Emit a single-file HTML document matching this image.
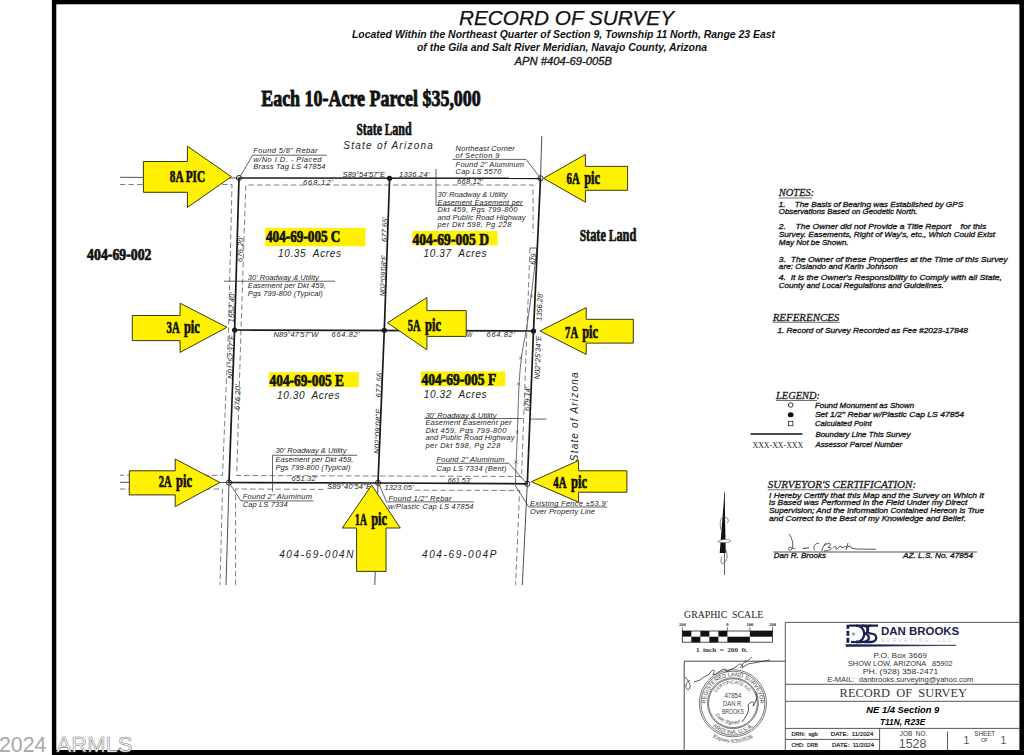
<!DOCTYPE html>
<html><head><meta charset="utf-8"><title>Record of Survey</title>
<style>html,body{margin:0;padding:0;background:#fff;overflow:hidden}svg{display:block}text{white-space:pre}</style>
</head><body>
<svg width="1024" height="755" viewBox="0 0 1024 755"><rect x="0" y="0" width="1024" height="755" fill="#fff"/>
<rect x="52" y="0" width="972" height="4.3" fill="#000"/>
<rect x="51.9" y="0" width="4.4" height="755" fill="#000"/>
<rect x="1019.4" y="0" width="4.6" height="755" fill="#000"/>
<rect x="52" y="750" width="972" height="5" fill="#000"/>
<text x="459" y="24.9" font-family="Liberation Sans" font-size="19.5" font-style="italic" textLength="215" lengthAdjust="spacingAndGlyphs" fill="#111" stroke="#111" stroke-width="0.25">RECORD OF SURVEY</text>
<text x="352" y="37.9" font-family="Liberation Sans" font-size="10.6" font-weight="bold" font-style="italic" textLength="423" lengthAdjust="spacingAndGlyphs" fill="#111" >Located Within the Northeast Quarter of Section 9, Township 11 North, Range 23 East</text>
<text x="417" y="51" font-family="Liberation Sans" font-size="10.6" font-weight="bold" font-style="italic" textLength="290" lengthAdjust="spacingAndGlyphs" fill="#111" >of the Gila and Salt River Meridian, Navajo County, Arizona</text>
<text x="514.5" y="64.7" font-family="Liberation Sans" font-size="11.5" font-style="italic" textLength="97.5" lengthAdjust="spacingAndGlyphs" fill="#111" stroke="#111" stroke-width="0.3">APN #404-69-005B</text>
<text x="261.2" y="105.8" font-family="Liberation Serif" font-size="23" font-weight="bold" textLength="219.6" lengthAdjust="spacingAndGlyphs" fill="#111" stroke="#111" stroke-width="0.9" stroke-linejoin="round">Each 10-Acre Parcel $35,000</text>
<text x="356.6" y="134.8" font-family="Liberation Serif" font-size="16.5" font-weight="bold" textLength="55" lengthAdjust="spacingAndGlyphs" fill="#111" stroke="#111" stroke-width="0.7" stroke-linejoin="round">S<tspan font-size="17.8">tate</tspan> L<tspan font-size="17.8">and</tspan></text>
<text x="343.3" y="148.7" font-family="Liberation Sans" font-size="10" font-style="italic" textLength="89.5" lengthAdjust="spacing" fill="#222" >State of Arizona</text>
<path d="M120,184.5 L232,184.5 L228.5,330 L222.5,475.3 L120,475.3" stroke="#555" stroke-width="0.75" fill="none" stroke-dasharray="5.5,3"/>
<path d="M120,489 L222.5,489 L220,585" stroke="#555" stroke-width="0.75" fill="none" stroke-dasharray="5.5,3"/>
<path d="M521.5,476.5 L236.7,475.5 L241,330 L245.8,185 L533,185 L533,233" stroke="#555" stroke-width="0.75" fill="none" stroke-dasharray="5.5,3"/>
<path d="M235.6,585 L235.6,489 L325,489.4" stroke="#555" stroke-width="0.75" fill="none" stroke-dasharray="5.5,3"/>
<path d="M415,490.2 L519.6,490.5 L515.6,585" stroke="#555" stroke-width="0.75" fill="none" stroke-dasharray="5.5,3"/>
<path d="M530,248 L521.5,476.5" stroke="#555" stroke-width="0.75" fill="none" stroke-dasharray="5.5,3"/>
<path d="M537,248 C533,280 529,318 524,342 C519,365 518.5,395 517.5,430 C516.5,455 515.5,470 515.5,484" stroke="#3c3c3c" stroke-width="0.75" fill="none" />
<path d="M530.0,294.5 L533.0,297.5" stroke="#3c3c3c" stroke-width="0.6" fill="none" />
<path d="M530.0,297.5 L533.0,294.5" stroke="#3c3c3c" stroke-width="0.6" fill="none" />
<path d="M519.1,356.5 L522.1,359.5" stroke="#3c3c3c" stroke-width="0.6" fill="none" />
<path d="M519.1,359.5 L522.1,356.5" stroke="#3c3c3c" stroke-width="0.6" fill="none" />
<path d="M517.1,382.5 L520.1,385.5" stroke="#3c3c3c" stroke-width="0.6" fill="none" />
<path d="M517.1,385.5 L520.1,382.5" stroke="#3c3c3c" stroke-width="0.6" fill="none" />
<path d="M515.7,430.5 L518.7,433.5" stroke="#3c3c3c" stroke-width="0.6" fill="none" />
<path d="M515.7,433.5 L518.7,430.5" stroke="#3c3c3c" stroke-width="0.6" fill="none" />
<path d="M514.5,460.5 L517.5,463.5" stroke="#3c3c3c" stroke-width="0.6" fill="none" />
<path d="M514.5,463.5 L517.5,460.5" stroke="#3c3c3c" stroke-width="0.6" fill="none" />
<path d="M529.7,248 L537,248" stroke="#3c3c3c" stroke-width="0.8" fill="none" />
<path d="M120,177.3 L239,178" stroke="#3c3c3c" stroke-width="0.9" fill="none" />
<path d="M541.8,136 L540.5,178.3" stroke="#3c3c3c" stroke-width="0.9" fill="none" />
<path d="M120,482.3 L229,482.5" stroke="#3c3c3c" stroke-width="0.9" fill="none" />
<path d="M229,482.5 L226,585" stroke="#3c3c3c" stroke-width="0.9" fill="none" />
<path d="M527.3,483.8 L522.3,585" stroke="#3c3c3c" stroke-width="0.9" fill="none" />
<path d="M378,483 L374.8,585" stroke="#3c3c3c" stroke-width="0.9" fill="none" />
<path d="M239,178 L540.5,178.3" stroke="#1a1a1a" stroke-width="1.7" fill="none" />
<path d="M239,178 L234.6,330 L229,482.5" stroke="#1a1a1a" stroke-width="1.7" fill="none" />
<path d="M540.5,178.3 L533.5,331 L527.3,483.8" stroke="#1a1a1a" stroke-width="1.7" fill="none" />
<path d="M229,482.5 L378,483 L527.3,483.8" stroke="#1a1a1a" stroke-width="1.7" fill="none" />
<path d="M234.6,330 L533.5,331" stroke="#1a1a1a" stroke-width="1.7" fill="none" />
<path d="M389.6,178.3 L384.3,330 L378,483" stroke="#1a1a1a" stroke-width="1.7" fill="none" />
<circle cx="389.6" cy="178.3" r="2.6" fill="#1a1a1a" stroke="none" stroke-width="1"/>
<circle cx="234.6" cy="330" r="2.6" fill="#1a1a1a" stroke="none" stroke-width="1"/>
<circle cx="384.3" cy="330.3" r="2.6" fill="#1a1a1a" stroke="none" stroke-width="1"/>
<circle cx="533.5" cy="331" r="2.6" fill="#1a1a1a" stroke="none" stroke-width="1"/>
<circle cx="239" cy="178" r="2.6" fill="none" stroke="#1a1a1a" stroke-width="0.9"/>
<circle cx="540.5" cy="178.3" r="2.6" fill="none" stroke="#1a1a1a" stroke-width="0.9"/>
<circle cx="229" cy="482.5" r="2.6" fill="none" stroke="#1a1a1a" stroke-width="0.9"/>
<circle cx="378" cy="482.8" r="2.6" fill="none" stroke="#1a1a1a" stroke-width="0.9"/>
<circle cx="527.3" cy="483.8" r="2.6" fill="none" stroke="#1a1a1a" stroke-width="0.9"/>
<path d="M252.6,155.2 L326.7,155.2" stroke="#3c3c3c" stroke-width="0.8" fill="none" />
<path d="M252.6,155.2 L239.7,177.5" stroke="#3c3c3c" stroke-width="0.8" fill="none" />
<path d="M452.6,159.4 L526.1,159.4 L540.5,178.3" stroke="#3c3c3c" stroke-width="0.8" fill="none" />
<path d="M436,169 L436,205.5 L523,205.5" stroke="#3c3c3c" stroke-width="0.8" fill="none" />
<path d="M224,281.2 L335,281.2" stroke="#3c3c3c" stroke-width="0.8" fill="none" />
<path d="M424.6,418.5 L522.4,418.5" stroke="#3c3c3c" stroke-width="0.8" fill="none" />
<path d="M530,419.1 L546.3,419.1" stroke="#3c3c3c" stroke-width="0.8" fill="none" />
<path d="M272.5,455.3 L357.1,455.3" stroke="#3c3c3c" stroke-width="0.8" fill="none" />
<path d="M272.5,455.3 L272.5,491.5" stroke="#3c3c3c" stroke-width="0.8" fill="none" />
<path d="M229,482.5 L241,500.9 L313.4,500.9" stroke="#3c3c3c" stroke-width="0.8" fill="none" />
<path d="M436,463.3 L508.9,463.3 L520.8,476.9 L527.3,483.8" stroke="#3c3c3c" stroke-width="0.8" fill="none" />
<path d="M379.3,484.8 L386.6,501.9 L474,501.9" stroke="#3c3c3c" stroke-width="0.8" fill="none" />
<path d="M515,485 L528.7,507 L607.3,507" stroke="#3c3c3c" stroke-width="0.8" fill="none" />
<text x="253.2" y="153.4" font-family="Liberation Sans" font-size="7.5" font-style="italic" textLength="64.4" lengthAdjust="spacing" fill="#222" >Found 5/8" Rebar</text>
<text x="253.2" y="162.2" font-family="Liberation Sans" font-size="7.5" font-style="italic" textLength="68.3" lengthAdjust="spacing" fill="#222" >w/No I.D. - Placed</text>
<text x="253.2" y="169.3" font-family="Liberation Sans" font-size="7.5" font-style="italic" textLength="72.3" lengthAdjust="spacing" fill="#222" >Brass Tag LS 47854</text>
<text x="455.6" y="150.9" font-family="Liberation Sans" font-size="7.5" font-style="italic" textLength="59.2" lengthAdjust="spacing" fill="#222" >Northeast Corner</text>
<text x="455.6" y="157.8" font-family="Liberation Sans" font-size="7.5" font-style="italic" textLength="43.7" lengthAdjust="spacing" fill="#222" >of Section 9</text>
<text x="455.6" y="166.7" font-family="Liberation Sans" font-size="7.5" font-style="italic" textLength="68.5" lengthAdjust="spacing" fill="#222" >Found 2" Aluminum</text>
<text x="455.6" y="174.1" font-family="Liberation Sans" font-size="7.5" font-style="italic" textLength="45.7" lengthAdjust="spacing" fill="#222" >Cap LS 5570</text>
<text x="342.6" y="177" font-family="Liberation Sans" font-size="7.5" font-style="italic" textLength="42.4" lengthAdjust="spacing" fill="#222" >S89°54'57"E</text>
<text x="399" y="177" font-family="Liberation Sans" font-size="7.5" font-style="italic" textLength="30.4" lengthAdjust="spacing" fill="#222" >1336.24'</text>
<text x="303" y="184.6" font-family="Liberation Sans" font-size="7.5" font-style="italic" textLength="30" lengthAdjust="spacing" fill="#222" >668.12'</text>
<text x="457" y="184.3" font-family="Liberation Sans" font-size="7.5" font-style="italic" textLength="26" lengthAdjust="spacing" fill="#222" >668.12'</text>
<text x="437.5" y="197.3" font-family="Liberation Sans" font-size="7.5" font-style="italic" textLength="70" lengthAdjust="spacingAndGlyphs" fill="#222" >30' Roadway &amp; Utility</text>
<text x="437.5" y="204.75" font-family="Liberation Sans" font-size="7.5" font-style="italic" textLength="85" lengthAdjust="spacing" fill="#222" >Easement Easement per</text>
<text x="437.5" y="212.20000000000002" font-family="Liberation Sans" font-size="7.5" font-style="italic" textLength="80" lengthAdjust="spacing" fill="#222" >Dkt 459, Pgs 799-800</text>
<text x="437.5" y="219.65" font-family="Liberation Sans" font-size="7.5" font-style="italic" textLength="88" lengthAdjust="spacing" fill="#222" >and Public Road Highway</text>
<text x="437.5" y="227.10000000000002" font-family="Liberation Sans" font-size="7.5" font-style="italic" textLength="74" lengthAdjust="spacing" fill="#222" >per Dkt 598, Pg 228</text>
<text x="247.8" y="280" font-family="Liberation Sans" font-size="7.5" font-style="italic" textLength="71" lengthAdjust="spacing" fill="#222" >30' Roadway &amp; Utility</text>
<text x="247.8" y="288" font-family="Liberation Sans" font-size="7.5" font-style="italic" textLength="78" lengthAdjust="spacing" fill="#222" >Easement per Dkt 459,</text>
<text x="247.8" y="295.5" font-family="Liberation Sans" font-size="7.5" font-style="italic" textLength="75" lengthAdjust="spacing" fill="#222" >Pgs 799-800 (Typical)</text>
<text x="278" y="256.8" font-family="Liberation Sans" font-size="10" font-style="italic" textLength="63" lengthAdjust="spacing" fill="#222" >10.35  Acres</text>
<text x="423.5" y="256.5" font-family="Liberation Sans" font-size="10" font-style="italic" textLength="63" lengthAdjust="spacing" fill="#222" >10.37  Acres</text>
<text x="277.1" y="398.5" font-family="Liberation Sans" font-size="10" font-style="italic" textLength="62.4" lengthAdjust="spacing" fill="#222" >10.30  Acres</text>
<text x="423.8" y="397.7" font-family="Liberation Sans" font-size="10" font-style="italic" textLength="62.8" lengthAdjust="spacing" fill="#222" >10.32  Acres</text>
<text x="273.6" y="337" font-family="Liberation Sans" font-size="7.5" font-style="italic" textLength="44.8" lengthAdjust="spacing" fill="#222" >N89°47'57"W</text>
<text x="331.6" y="337" font-family="Liberation Sans" font-size="7.5" font-style="italic" textLength="28.1" lengthAdjust="spacing" fill="#222" >664.82'</text>
<text x="440" y="337" font-family="Liberation Sans" font-size="7.5" font-style="italic" textLength="32" lengthAdjust="spacingAndGlyphs" fill="#222" >N89°47'57"W</text>
<text x="486.6" y="336.9" font-family="Liberation Sans" font-size="7.5" font-style="italic" textLength="28.2" lengthAdjust="spacing" fill="#222" >664.82'</text>
<text x="425.4" y="417.6" font-family="Liberation Sans" font-size="7.5" font-style="italic" textLength="71" lengthAdjust="spacing" fill="#222" >30' Roadway &amp; Utility</text>
<text x="425.4" y="425.15000000000003" font-family="Liberation Sans" font-size="7.5" font-style="italic" textLength="86" lengthAdjust="spacing" fill="#222" >Easement Easement per</text>
<text x="425.4" y="432.70000000000005" font-family="Liberation Sans" font-size="7.5" font-style="italic" textLength="81" lengthAdjust="spacing" fill="#222" >Dkt 459, Pgs 799-800</text>
<text x="425.4" y="440.25" font-family="Liberation Sans" font-size="7.5" font-style="italic" textLength="89" lengthAdjust="spacing" fill="#222" >and Public Road Highway</text>
<text x="425.4" y="447.8" font-family="Liberation Sans" font-size="7.5" font-style="italic" textLength="75" lengthAdjust="spacing" fill="#222" >per Dkt 598, Pg 228</text>
<text x="436.6" y="461.7" font-family="Liberation Sans" font-size="7.5" font-style="italic" textLength="68" lengthAdjust="spacing" fill="#222" >Found 2" Aluminum</text>
<text x="436.6" y="470.5" font-family="Liberation Sans" font-size="7.5" font-style="italic" textLength="70" lengthAdjust="spacing" fill="#222" >Cap LS 7334 (Bent)</text>
<text x="275.4" y="453.4" font-family="Liberation Sans" font-size="7.5" font-style="italic" textLength="71" lengthAdjust="spacing" fill="#222" >30' Roadway &amp; Utility</text>
<text x="275.4" y="461.7" font-family="Liberation Sans" font-size="7.5" font-style="italic" textLength="78" lengthAdjust="spacing" fill="#222" >Easement per Dkt 459,</text>
<text x="275.4" y="470" font-family="Liberation Sans" font-size="7.5" font-style="italic" textLength="75" lengthAdjust="spacing" fill="#222" >Pgs 799-800 (Typical)</text>
<text x="291.6" y="480.8" font-family="Liberation Sans" font-size="7.5" font-style="italic" textLength="25.7" lengthAdjust="spacing" fill="#222" >651.32'</text>
<text x="447.8" y="482.6" font-family="Liberation Sans" font-size="7.5" font-style="italic" textLength="23.2" lengthAdjust="spacingAndGlyphs" fill="#222" >661.53'</text>
<text x="327" y="489" font-family="Liberation Sans" font-size="7.5" font-style="italic" textLength="44" lengthAdjust="spacing" fill="#222" >S89°40'54"E</text>
<text x="384.6" y="489.6" font-family="Liberation Sans" font-size="7.5" font-style="italic" textLength="28.9" lengthAdjust="spacing" fill="#222" >1323.05'</text>
<text x="242.7" y="499.4" font-family="Liberation Sans" font-size="7.5" font-style="italic" textLength="69.2" lengthAdjust="spacing" fill="#222" >Found 2" Aluminum</text>
<text x="242.7" y="507.3" font-family="Liberation Sans" font-size="7.5" font-style="italic" textLength="45" lengthAdjust="spacing" fill="#222" >Cap LS 7334</text>
<text x="388.5" y="500.6" font-family="Liberation Sans" font-size="7.5" font-style="italic" textLength="63" lengthAdjust="spacing" fill="#222" >Found 1/2" Rebar</text>
<text x="388" y="508.7" font-family="Liberation Sans" font-size="7.5" font-style="italic" textLength="85.5" lengthAdjust="spacing" fill="#222" >w/Plastic Cap LS 47854</text>
<text x="530" y="505.6" font-family="Liberation Sans" font-size="7.5" font-style="italic" textLength="77.3" lengthAdjust="spacing" fill="#222" >Existing Fence ±53.9'</text>
<text x="530" y="513.6" font-family="Liberation Sans" font-size="7.5" font-style="italic" textLength="65" lengthAdjust="spacing" fill="#222" >Over Property Line</text>
<text x="279.2" y="557.7" font-family="Liberation Sans" font-size="10" font-style="italic" textLength="74.2" lengthAdjust="spacing" fill="#222" >404-69-004N</text>
<text x="421.9" y="557.6" font-family="Liberation Sans" font-size="10" font-style="italic" textLength="74.5" lengthAdjust="spacing" fill="#222" >404-69-004P</text>
<text transform="translate(242.6,262) rotate(-88.3)" font-family="Liberation Sans" font-size="7.5" font-style="italic" textLength="26" lengthAdjust="spacing" fill="#222" >676.20'</text>
<text transform="translate(239.6,410) rotate(-87.9)" font-family="Liberation Sans" font-size="7.5" font-style="italic" textLength="25.5" lengthAdjust="spacing" fill="#222" >676.20'</text>
<text transform="translate(233.8,322.5) rotate(-88.3)" font-family="Liberation Sans" font-size="7.5" font-style="italic" textLength="30.5" lengthAdjust="spacing" fill="#222" >1552.40'</text>
<text transform="translate(232.8,379) rotate(-87.9)" font-family="Liberation Sans" font-size="7.5" font-style="italic" textLength="44" lengthAdjust="spacing" fill="#222" >N01°52'37"E</text>
<text transform="translate(386.8,242) rotate(-88)" font-family="Liberation Sans" font-size="7.5" font-style="italic" textLength="25" lengthAdjust="spacing" fill="#222" >677.65'</text>
<text transform="translate(385.2,296.5) rotate(-88)" font-family="Liberation Sans" font-size="7.5" font-style="italic" textLength="41.5" lengthAdjust="spacingAndGlyphs" fill="#222" >N02°09'08"E</text>
<text transform="translate(381,397.5) rotate(-87.6)" font-family="Liberation Sans" font-size="7.5" font-style="italic" textLength="26.4" lengthAdjust="spacing" fill="#222" >677.56'</text>
<text transform="translate(379.3,454) rotate(-87.6)" font-family="Liberation Sans" font-size="7.5" font-style="italic" textLength="45" lengthAdjust="spacing" fill="#222" >N02°09'08"E</text>
<text transform="translate(541.5,321) rotate(-87.4)" font-family="Liberation Sans" font-size="7.5" font-style="italic" textLength="28.6" lengthAdjust="spacing" fill="#222" >1356.28'</text>
<text transform="translate(539.5,379.6) rotate(-87.7)" font-family="Liberation Sans" font-size="7.5" font-style="italic" textLength="44" lengthAdjust="spacing" fill="#222" >N02°25'34"E</text>
<text transform="translate(529.5,410.9) rotate(-87.7)" font-family="Liberation Sans" font-size="7.5" font-style="italic" textLength="23.9" lengthAdjust="spacingAndGlyphs" fill="#222" >679.14'</text>
<text transform="translate(535.5,264.8) rotate(-87.4)" font-family="Liberation Sans" font-size="7.5" font-style="italic" textLength="12.8" lengthAdjust="spacingAndGlyphs" fill="#222" >679.</text>
<text transform="translate(577.8,461.2) rotate(-90)" font-family="Liberation Sans" font-size="10" font-style="italic" textLength="88.7" lengthAdjust="spacing" fill="#222" >State of Arizona</text>
<rect x="265.3" y="227.8" width="100.2" height="18.4" fill="#fff100"/>
<rect x="412.4" y="231" width="85.1" height="14.2" fill="#fff100"/>
<rect x="268.9" y="372.2" width="89.9" height="14.9" fill="#fff100"/>
<rect x="420.7" y="371.4" width="84.5" height="14.8" fill="#fff100"/>
<text x="266" y="242.2" font-family="Liberation Serif" font-size="16.5" font-weight="bold" textLength="74.4" lengthAdjust="spacingAndGlyphs" fill="#111" stroke="#111" stroke-width="0.7" stroke-linejoin="round">404-69-005 C</text>
<text x="412.4" y="245" font-family="Liberation Serif" font-size="16.5" font-weight="bold" textLength="76.6" lengthAdjust="spacingAndGlyphs" fill="#111" stroke="#111" stroke-width="0.7" stroke-linejoin="round">404-69-005 D</text>
<text x="269.6" y="386.2" font-family="Liberation Serif" font-size="16.5" font-weight="bold" textLength="74.3" lengthAdjust="spacingAndGlyphs" fill="#111" stroke="#111" stroke-width="0.7" stroke-linejoin="round">404-69-005 E</text>
<text x="421.5" y="385.4" font-family="Liberation Serif" font-size="16.5" font-weight="bold" textLength="74.7" lengthAdjust="spacingAndGlyphs" fill="#111" stroke="#111" stroke-width="0.7" stroke-linejoin="round">404-69-005 F</text>
<text x="87.1" y="259.8" font-family="Liberation Serif" font-size="16.5" font-weight="bold" textLength="64.4" lengthAdjust="spacingAndGlyphs" fill="#111" stroke="#111" stroke-width="0.7" stroke-linejoin="round">404-69-002</text>
<text x="579.7" y="241.4" font-family="Liberation Serif" font-size="17.3" font-weight="bold" textLength="56.6" lengthAdjust="spacingAndGlyphs" fill="#111" stroke="#111" stroke-width="0.7" stroke-linejoin="round">S<tspan font-size="18.7">tate</tspan> L<tspan font-size="18.7">and</tspan></text>
<path d="M143.4,161.5 L187.4,161.5 L187.4,146.2 L231.3,176.7 L187.4,207.4 L187.4,192.3 L143.4,192.3 Z" stroke="#3a3a10" stroke-width="1" fill="#fff100" />
<text x="169.8" y="181.6" font-family="Liberation Serif" font-size="15.7" font-weight="bold" textLength="35.2" lengthAdjust="spacingAndGlyphs" fill="#111" stroke="#111" stroke-width="0.7" stroke-linejoin="round">8A PIC</text>
<path d="M627.6,166.4 L585.4,166.4 L585.4,154.4 L543.5,178.3 L585.4,202.2 L585.4,190.3 L627.6,190.3 Z" stroke="#3a3a10" stroke-width="1" fill="#fff100" />
<text x="566.6" y="183.6" font-family="Liberation Serif" font-size="16.3" font-weight="bold" textLength="13.2" lengthAdjust="spacingAndGlyphs" fill="#111" stroke="#111" stroke-width="0.7" stroke-linejoin="round">6A</text>
<text x="584.2" y="183.6" font-family="Liberation Serif" font-size="18.8" font-weight="bold" textLength="15.8" lengthAdjust="spacingAndGlyphs" fill="#111" stroke="#111" stroke-width="0.7" stroke-linejoin="round">pic</text>
<path d="M132.3,315.5 L180.1,315.5 L180.1,303.2 L226.9,327.3 L180.1,352.4 L180.1,340.6 L132.3,340.6 Z" stroke="#3a3a10" stroke-width="1" fill="#fff100" />
<text x="166.6" y="332.8" font-family="Liberation Serif" font-size="16.3" font-weight="bold" textLength="13.2" lengthAdjust="spacingAndGlyphs" fill="#111" stroke="#111" stroke-width="0.7" stroke-linejoin="round">3A</text>
<text x="183.9" y="332.8" font-family="Liberation Serif" font-size="18.8" font-weight="bold" textLength="15.9" lengthAdjust="spacingAndGlyphs" fill="#111" stroke="#111" stroke-width="0.7" stroke-linejoin="round">pic</text>
<path d="M466.2,310.6 L426.9,310.6 L426.9,297.5 L387.5,322.8 L426.9,349.8 L426.9,336.4 L466.2,336.4 Z" stroke="#3a3a10" stroke-width="1" fill="#fff100" />
<text x="407.8" y="330.8" font-family="Liberation Serif" font-size="16.3" font-weight="bold" textLength="12.7" lengthAdjust="spacingAndGlyphs" fill="#111" stroke="#111" stroke-width="0.7" stroke-linejoin="round">5A</text>
<text x="425.1" y="330.8" font-family="Liberation Serif" font-size="18.8" font-weight="bold" textLength="15.9" lengthAdjust="spacingAndGlyphs" fill="#111" stroke="#111" stroke-width="0.7" stroke-linejoin="round">pic</text>
<path d="M633.3,319.3 L586.2,319.3 L586.2,307.6 L540,331 L586.2,354.4 L586.2,343.1 L633.3,343.1 Z" stroke="#3a3a10" stroke-width="1" fill="#fff100" />
<text x="565.1" y="337.6" font-family="Liberation Serif" font-size="16.3" font-weight="bold" textLength="13.0" lengthAdjust="spacingAndGlyphs" fill="#111" stroke="#111" stroke-width="0.7" stroke-linejoin="round">7A</text>
<text x="582.2" y="337.6" font-family="Liberation Serif" font-size="18.8" font-weight="bold" textLength="15.9" lengthAdjust="spacingAndGlyphs" fill="#111" stroke="#111" stroke-width="0.7" stroke-linejoin="round">pic</text>
<path d="M129.3,470.8 L175.2,470.8 L175.2,459 L219.9,482.5 L175.2,506.6 L175.2,494.9 L129.3,494.9 Z" stroke="#3a3a10" stroke-width="1" fill="#fff100" />
<text x="158.8" y="486.6" font-family="Liberation Serif" font-size="16.3" font-weight="bold" textLength="12.9" lengthAdjust="spacingAndGlyphs" fill="#111" stroke="#111" stroke-width="0.7" stroke-linejoin="round">2A</text>
<text x="176.1" y="486.6" font-family="Liberation Serif" font-size="18.8" font-weight="bold" textLength="15.9" lengthAdjust="spacingAndGlyphs" fill="#111" stroke="#111" stroke-width="0.7" stroke-linejoin="round">pic</text>
<path d="M626.9,470.8 L578.6,470.8 L578.6,460.5 L531.4,481.7 L578.6,502.2 L578.6,492.2 L626.9,492.2 Z" stroke="#3a3a10" stroke-width="1" fill="#fff100" />
<text x="553.3" y="488.3" font-family="Liberation Serif" font-size="16.3" font-weight="bold" textLength="13.2" lengthAdjust="spacingAndGlyphs" fill="#111" stroke="#111" stroke-width="0.7" stroke-linejoin="round">4A</text>
<text x="570.9" y="488.3" font-family="Liberation Serif" font-size="18.8" font-weight="bold" textLength="16.1" lengthAdjust="spacingAndGlyphs" fill="#111" stroke="#111" stroke-width="0.7" stroke-linejoin="round">pic</text>
<path d="M371.7,485.1 L400.3,528 L386,528 L386,571.4 L356.6,571.4 L356.6,528 L342.3,528 Z" stroke="#3a3a10" stroke-width="1" fill="#fff100" />
<text x="355.1" y="524.6" font-family="Liberation Serif" font-size="16.3" font-weight="bold" textLength="11.7" lengthAdjust="spacingAndGlyphs" fill="#111" stroke="#111" stroke-width="0.7" stroke-linejoin="round">1A</text>
<text x="371.2" y="524.6" font-family="Liberation Serif" font-size="18.8" font-weight="bold" textLength="15.9" lengthAdjust="spacingAndGlyphs" fill="#111" stroke="#111" stroke-width="0.7" stroke-linejoin="round">pic</text>
<text x="778.8" y="196.1" font-family="Liberation Serif" font-size="10.5" font-style="italic" textLength="35.5" lengthAdjust="spacingAndGlyphs" fill="#222" stroke="#222" stroke-width="0.3">NOTES:</text>
<path d="M778.8,198 L812,198" stroke="#333" stroke-width="0.7" fill="none" />
<text x="778.8" y="206.6" font-family="Liberation Sans" font-size="8" font-style="italic" textLength="184.4" lengthAdjust="spacingAndGlyphs" fill="#1e1e1e" stroke="#1e1e1e" stroke-width="0.35">1.    The Basis of Bearing was Established by GPS</text>
<text x="778.8" y="213.8" font-family="Liberation Sans" font-size="8" font-style="italic" textLength="138.7" lengthAdjust="spacingAndGlyphs" fill="#1e1e1e" stroke="#1e1e1e" stroke-width="0.35">Observations Based on Geodetic North.</text>
<text x="778.8" y="228.5" font-family="Liberation Sans" font-size="8" font-style="italic" textLength="207.5" lengthAdjust="spacingAndGlyphs" fill="#1e1e1e" stroke="#1e1e1e" stroke-width="0.35">2.    The Owner did not Provide a Title Report    for this</text>
<text x="778.8" y="236.9" font-family="Liberation Sans" font-size="8" font-style="italic" textLength="216.3" lengthAdjust="spacingAndGlyphs" fill="#1e1e1e" stroke="#1e1e1e" stroke-width="0.35">Survey. Easements, Right of Way's, etc., Which Could Exist</text>
<text x="778.8" y="244.6" font-family="Liberation Sans" font-size="8" font-style="italic" textLength="69.9" lengthAdjust="spacingAndGlyphs" fill="#1e1e1e" stroke="#1e1e1e" stroke-width="0.35">May Not be Shown.</text>
<text x="778.8" y="261.8" font-family="Liberation Sans" font-size="8" font-style="italic" textLength="228.8" lengthAdjust="spacingAndGlyphs" fill="#1e1e1e" stroke="#1e1e1e" stroke-width="0.35">3.  The Owner of these Properties at the Time of this Survey</text>
<text x="778.8" y="269.3" font-family="Liberation Sans" font-size="8" font-style="italic" textLength="118.7" lengthAdjust="spacingAndGlyphs" fill="#1e1e1e" stroke="#1e1e1e" stroke-width="0.35">are: Oslando and Karin Johnson</text>
<text x="778.8" y="280.4" font-family="Liberation Sans" font-size="8" font-style="italic" textLength="223.2" lengthAdjust="spacingAndGlyphs" fill="#1e1e1e" stroke="#1e1e1e" stroke-width="0.35">4.  It is the Owner's Responsibility to Comply with all State,</text>
<text x="778.8" y="288.2" font-family="Liberation Sans" font-size="8" font-style="italic" textLength="165" lengthAdjust="spacingAndGlyphs" fill="#1e1e1e" stroke="#1e1e1e" stroke-width="0.35">County and Local Regulations and Guidelines.</text>
<text x="772.7" y="320.9" font-family="Liberation Serif" font-size="10.5" font-style="italic" textLength="66.6" lengthAdjust="spacingAndGlyphs" fill="#222" stroke="#222" stroke-width="0.3">REFERENCES</text>
<path d="M772.7,322.3 L839.3,322.3" stroke="#333" stroke-width="0.7" fill="none" />
<text x="777.4" y="332.5" font-family="Liberation Sans" font-size="8" font-style="italic" textLength="190.6" lengthAdjust="spacingAndGlyphs" fill="#1e1e1e" stroke="#1e1e1e" stroke-width="0.35">1. Record of Survey Recorded as Fee #2023-17848</text>
<text x="776" y="398.9" font-family="Liberation Serif" font-size="10.5" font-style="italic" textLength="43.9" lengthAdjust="spacingAndGlyphs" fill="#222" stroke="#222" stroke-width="0.3">LEGEND:</text>
<path d="M776,400.5 L817,400.5" stroke="#333" stroke-width="0.7" fill="none" />
<circle cx="790.7" cy="405" r="2.3" fill="none" stroke="#222" stroke-width="0.9"/>
<text x="814.9" y="407.7" font-family="Liberation Sans" font-size="8" font-style="italic" textLength="99.3" lengthAdjust="spacingAndGlyphs" fill="#1e1e1e" stroke="#1e1e1e" stroke-width="0.35">Found Monument as Shown</text>
<ellipse cx="790.7" cy="414.7" rx="2.9" ry="2.5" fill="#111"/>
<text x="814.9" y="416.9" font-family="Liberation Sans" font-size="8" font-style="italic" textLength="149.1" lengthAdjust="spacingAndGlyphs" fill="#1e1e1e" stroke="#1e1e1e" stroke-width="0.35">Set 1/2" Rebar w/Plastic Cap LS 47854</text>
<rect x="788.5" y="421.3" width="4.4" height="4.4" fill="none" stroke="#222" stroke-width="0.8"/>
<text x="814.9" y="425.8" font-family="Liberation Sans" font-size="8" font-style="italic" textLength="56.8" lengthAdjust="spacingAndGlyphs" fill="#1e1e1e" stroke="#1e1e1e" stroke-width="0.35">Calculated Point</text>
<path d="M750.5,434.1 L802.4,434.1" stroke="#111" stroke-width="1.5" fill="none" />
<text x="815.4" y="436.8" font-family="Liberation Sans" font-size="8" font-style="italic" textLength="95.1" lengthAdjust="spacingAndGlyphs" fill="#1e1e1e" stroke="#1e1e1e" stroke-width="0.35">Boundary Line This Survey</text>
<text x="752.5" y="447.9" font-family="Liberation Serif" font-size="9" textLength="50.7" lengthAdjust="spacingAndGlyphs" fill="#222" >XXX-XX-XXX</text>
<text x="815.4" y="447.1" font-family="Liberation Sans" font-size="8" font-style="italic" textLength="86.8" lengthAdjust="spacingAndGlyphs" fill="#1e1e1e" stroke="#1e1e1e" stroke-width="0.35">Assessor Parcel Number</text>
<text x="767.7" y="488.2" font-family="Liberation Serif" font-size="11" font-style="italic" textLength="148.4" lengthAdjust="spacingAndGlyphs" fill="#222" stroke="#222" stroke-width="0.3">SURVEYOR'S CERTIFICATION:</text>
<path d="M767.7,489.8 L913,489.8" stroke="#333" stroke-width="0.7" fill="none" />
<text x="769.1" y="497.9" font-family="Liberation Sans" font-size="8" font-style="italic" textLength="214.9" lengthAdjust="spacingAndGlyphs" fill="#1e1e1e" stroke="#1e1e1e" stroke-width="0.35">I Hereby Certify that this Map and the Survey on Which It</text>
<text x="769.1" y="505.3" font-family="Liberation Sans" font-size="8" font-style="italic" textLength="198.3" lengthAdjust="spacingAndGlyphs" fill="#1e1e1e" stroke="#1e1e1e" stroke-width="0.35">is Based was Performed in the Field Under my Direct</text>
<text x="769.1" y="513.1" font-family="Liberation Sans" font-size="8" font-style="italic" textLength="214.9" lengthAdjust="spacingAndGlyphs" fill="#1e1e1e" stroke="#1e1e1e" stroke-width="0.35">Supervision; And the Information Contained Hereon is True</text>
<text x="769.1" y="520.6" font-family="Liberation Sans" font-size="8" font-style="italic" textLength="196.9" lengthAdjust="spacingAndGlyphs" fill="#1e1e1e" stroke="#1e1e1e" stroke-width="0.35">and Correct to the Best of my Knowledge and Belief.</text>
<path d="M773.3,552 L977.1,552" stroke="#555" stroke-width="1.1" fill="none" />
<text x="773.8" y="558.3" font-family="Liberation Sans" font-size="8" font-style="italic" textLength="52.2" lengthAdjust="spacingAndGlyphs" fill="#1e1e1e" stroke="#1e1e1e" stroke-width="0.35">Dan R. Brooks</text>
<text x="903" y="558.3" font-family="Liberation Sans" font-size="8" font-style="italic" textLength="70" lengthAdjust="spacingAndGlyphs" fill="#1e1e1e" stroke="#1e1e1e" stroke-width="0.35">AZ. L.S. No. 47854</text>
<path d="M789,534 C792,538 794,544 792,549 C790,552 787,549 789,547.5 C791,546.5 793,550 795.5,548" stroke="#222" stroke-width="0.75" fill="none" />
<path d="M803,548.5 L809,547.8" stroke="#222" stroke-width="0.9" fill="none" />
<path d="M819,543.5 C815,542.5 812,547.5 815,550.5" stroke="#222" stroke-width="0.75" fill="none" />
<path d="M826,543 C823,546 822,549 822,551.5 M824,546 C827,542.5 832,542.5 830,545.5 C829,547 826,547.5 830,547.5 C833,548 830,551 824,551 M833,548 C834,545.5 837,546 836,548.5 C835,550 838,549 839,547 C840,545.5 842,546 842,548 L846,546 M848,543 L846,550 M846,548 C849,545 852,546 851,548 L856,549 L876,549.3" stroke="#222" stroke-width="0.75" fill="none" />
<path d="M724.5,492.2 L724.5,575" stroke="#222" stroke-width="0.7" fill="none" />
<path d="M724.5,492.2 L725.8,553 L719.7,553 Z" stroke="none" stroke-width="1" fill="#111" />
<path d="M721,530 C719,521 721,516 725,517 C729,518 729,522 727,523" stroke="#555" stroke-width="0.7" fill="none" />
<path d="M718,541 C722,539 730,539 731,541 C730,543 722,543 718,542 Z" stroke="#555" stroke-width="0.6" fill="#fff" />
<path d="M725,548 C728,554 728,560 724,563 C721,566 720,560 722,557" stroke="#555" stroke-width="0.7" fill="none" />
<text x="684.1" y="618.2" font-family="Liberation Serif" font-size="10" textLength="79.1" lengthAdjust="spacingAndGlyphs" fill="#222" >GRAPHIC  SCALE</text>
<text x="682.3" y="625.8" font-family="Liberation Serif" font-size="4.5" font-weight="bold" text-anchor="middle" fill="#222" >200</text>
<path d="M682.3,627 L682.3,631" stroke="#222" stroke-width="0.6" fill="none" />
<text x="727.4" y="625.8" font-family="Liberation Serif" font-size="4.5" font-weight="bold" text-anchor="middle" fill="#222" >0</text>
<path d="M727.4,627 L727.4,631" stroke="#222" stroke-width="0.6" fill="none" />
<text x="749.9" y="625.8" font-family="Liberation Serif" font-size="4.5" font-weight="bold" text-anchor="middle" fill="#222" >100</text>
<path d="M749.9,627 L749.9,631" stroke="#222" stroke-width="0.6" fill="none" />
<text x="772.5" y="625.8" font-family="Liberation Serif" font-size="4.5" font-weight="bold" text-anchor="middle" fill="#222" >200</text>
<path d="M772.5,627 L772.5,631" stroke="#222" stroke-width="0.6" fill="none" />
<rect x="682.3" y="631" width="90.2" height="11.2" fill="#fff" stroke="#222" stroke-width="0.8"/>
<rect x="682.30" y="631" width="9.02" height="5.6" fill="#111"/>
<rect x="691.32" y="636.7" width="9.02" height="5.6" fill="#111"/>
<rect x="700.34" y="631" width="9.02" height="5.6" fill="#111"/>
<rect x="709.36" y="636.7" width="9.02" height="5.6" fill="#111"/>
<rect x="718.38" y="631" width="9.02" height="5.6" fill="#111"/>
<rect x="727.4" y="636.7" width="22.5" height="5.5" fill="#111"/>
<rect x="749.9" y="631" width="22.6" height="5.7" fill="#111"/>
<text x="696" y="652.2" font-family="Liberation Serif" font-size="7" font-weight="bold" textLength="52" lengthAdjust="spacingAndGlyphs" fill="#333" >1  inch  =  200  ft.</text>
<path d="M684.2,750 L684.2,661.2 L785.3,661.2" stroke="#333" stroke-width="0.9" fill="none"/>
<circle cx="732.9" cy="703.2" r="33.6" fill="none" stroke="#444" stroke-width="0.7"/>
<circle cx="732.9" cy="703.2" r="32.0" fill="none" stroke="#444" stroke-width="0.7"/>
<circle cx="732.9" cy="703.2" r="25.4" fill="none" stroke="#444" stroke-width="0.7"/>
<circle cx="732.9" cy="703.2" r="24.4" fill="none" stroke="#444" stroke-width="0.7"/>
<text x="732.9" y="697.8" font-family="Liberation Sans" font-size="7" textLength="17" lengthAdjust="spacingAndGlyphs" text-anchor="middle" fill="#444" >47854</text>
<text x="732.9" y="706" font-family="Liberation Sans" font-size="7" textLength="19.6" lengthAdjust="spacingAndGlyphs" text-anchor="middle" fill="#444" >DAN R.</text>
<text x="732.9" y="713.5" font-family="Liberation Sans" font-size="7" textLength="22" lengthAdjust="spacingAndGlyphs" text-anchor="middle" fill="#444" >BROOKS</text>
<defs><path id="ringtop" d="M708.43,714.61 A27,27 0 1 1 757.37,714.61"/><path id="ringcert" d="M716.01,693.45 A19.5,19.5 0 0 1 749.79,693.45"/><path id="ringbot" d="M707.67,720.87 A30.8,30.8 0 0 0 758.13,720.87"/><path id="ringdate" d="M713.87,712.07 A21,21 0 0 0 740.08,722.93"/><path id="ringexp" d="M702.64,728.59 A39.5,39.5 0 0 0 763.16,728.59"/></defs>
<text font-family="Liberation Sans" font-size="5.6" fill="#444"><textPath href="#ringtop" startOffset="50%" text-anchor="middle">REGISTERED LAND SURVEYOR</textPath></text>
<text font-family="Liberation Sans" font-size="4.6" fill="#444"><textPath href="#ringcert" startOffset="50%" text-anchor="middle">CERTIFICATE NO.</textPath></text>
<text font-family="Liberation Sans" font-size="5.6" fill="#444"><textPath href="#ringbot" startOffset="50%" text-anchor="middle">ARIZONA, U.S.A.</textPath></text>
<text font-family="Liberation Sans" font-size="5.2" fill="#444"><textPath href="#ringexp" startOffset="50%" text-anchor="middle">Expires 6/30/2026</textPath></text>
<text font-family="Liberation Sans" font-style="italic" font-size="5" fill="#444"><textPath href="#ringdate" startOffset="10%">Date Signed</textPath></text>
<path d="M685,677 C690,682 692,688 688,690 C684,688 686,682 690,680 M694,682 L700,680 C704,676 708,676 710,673 C713,668 716,670 713,674 C712,676 716,674 720,671 C724,668 728,669 726,672 L736,667 C740,662 744,664 742,668 L748,664 L770,660" stroke="#333" stroke-width="0.8" fill="none" />
<path d="M745,663 L752,657 M740,668 L746,660" stroke="#333" stroke-width="0.7" fill="none" />
<path d="M742,722 C746,716 750,712 748,705 C752,700 756,702 753,706 C757,700 758,696 756,692" stroke="#333" stroke-width="0.9" fill="none" />
<path d="M785.3,750 L785.3,622.4 L1019,622.4 M785.3,684.3 L1019,684.3 M785.3,701.3 L1019,701.3 M785.3,728.4 L1019,728.4 M785.3,739.4 L879.6,739.4 M879.6,728.4 L879.6,750 M947.5,731.5 L947.5,750" stroke="#444" stroke-width="0.9" fill="none"/>
<rect x="846.5" y="624.8" width="2.8" height="4.0" fill="#1c2150"/>
<rect x="846.5" y="630.8" width="2.8" height="5.0" fill="#1c2150"/>
<rect x="846.5" y="637.8" width="2.8" height="5.0" fill="#1c2150"/>
<path d="M849,625.6 L871,625.6" stroke="#1c2150" stroke-width="2.2" fill="none" />
<path d="M851,642 L858,642" stroke="#1c2150" stroke-width="2.2" fill="none" />
<path d="M856,625.6 C867,625.6 867,642 856,642" stroke="#1c2150" stroke-width="2.3" fill="none" />
<path d="M862,625.6 C870,625.6 870,633.6 863,633.6 C871,633.6 871,642 862,642 L856,642" stroke="#1c2150" stroke-width="2.3" fill="none" />
<path d="M878,625.6 L871,625.6 C866,625.6 866,633.6 871,633.6 C878,633.6 878,642 871,642 L864,642" stroke="#1c2150" stroke-width="2.3" fill="none" />
<circle cx="853.5" cy="634" r="1.8" fill="#a0a4b4" stroke="none" stroke-width="1"/>
<text x="880.9" y="634.8" font-family="Liberation Sans" font-size="10.7" font-weight="bold" textLength="78.4" lengthAdjust="spacingAndGlyphs" fill="#1c2150" >DAN BROOKS</text>
<text x="881" y="642.4" font-family="Liberation Sans" font-size="5.2" textLength="70.7" lengthAdjust="spacing" fill="#c4c6cc" >SURVEYING, LLC</text>
<path d="M846,644.6 L956,645.3 L846,646.6 Z" stroke="#1c2150" stroke-width="0.6" fill="#1c2150" />
<text x="900.3" y="657.7" font-family="Liberation Sans" font-size="8" textLength="53.4" lengthAdjust="spacingAndGlyphs" text-anchor="middle" fill="#333" >P.O. Box 3669</text>
<text x="900.3" y="666" font-family="Liberation Sans" font-size="8" textLength="104.8" lengthAdjust="spacingAndGlyphs" text-anchor="middle" fill="#333" >SHOW LOW, ARIZONA   85902</text>
<text x="900.6" y="674.3" font-family="Liberation Sans" font-size="8" textLength="75.5" lengthAdjust="spacingAndGlyphs" text-anchor="middle" fill="#333" >PH. (928) 358-2471</text>
<text x="900.3" y="682.2" font-family="Liberation Sans" font-size="8" textLength="146.3" lengthAdjust="spacingAndGlyphs" text-anchor="middle" fill="#333" >E-MAIL:  danbrooks.surveying@yahoo.com</text>
<text x="903.3" y="697" font-family="Liberation Serif" font-size="12" textLength="127.4" lengthAdjust="spacingAndGlyphs" text-anchor="middle" fill="#333" >RECORD  OF  SURVEY</text>
<text x="902.8" y="713.1" font-family="Liberation Sans" font-size="9.3" font-weight="bold" font-style="italic" textLength="72.9" lengthAdjust="spacingAndGlyphs" text-anchor="middle" >NE 1/4 Section 9</text>
<text x="902.6" y="724.8" font-family="Liberation Sans" font-size="9.1" font-weight="bold" font-style="italic" textLength="45.3" lengthAdjust="spacingAndGlyphs" text-anchor="middle" >T11N, R23E</text>
<text x="791.4" y="735.8" font-family="Liberation Sans" font-size="5.5" textLength="26.2" lengthAdjust="spacingAndGlyphs" fill="#222" stroke="#222" stroke-width="0.2">DRN:  sgb</text>
<text x="830.8" y="735.8" font-family="Liberation Sans" font-size="5.5" textLength="42.6" lengthAdjust="spacingAndGlyphs" fill="#222" stroke="#222" stroke-width="0.2">DATE:  11/2024</text>
<text x="791.4" y="747" font-family="Liberation Sans" font-size="5.5" textLength="26.6" lengthAdjust="spacingAndGlyphs" fill="#222" stroke="#222" stroke-width="0.2">CHD:  DRB</text>
<text x="832" y="747" font-family="Liberation Sans" font-size="5.5" textLength="42" lengthAdjust="spacingAndGlyphs" fill="#222" stroke="#222" stroke-width="0.2">DATE:  11/2024</text>
<text x="913.5" y="735.8" font-family="Liberation Sans" font-size="6.5" textLength="27.4" lengthAdjust="spacingAndGlyphs" text-anchor="middle" fill="#333" >JOB  NO.</text>
<text x="912.6" y="747.7" font-family="Liberation Sans" font-size="12.5" textLength="27.8" lengthAdjust="spacingAndGlyphs" text-anchor="middle" fill="#555" >1528</text>
<text x="984.7" y="735.8" font-family="Liberation Sans" font-size="6.5" textLength="21" lengthAdjust="spacingAndGlyphs" text-anchor="middle" fill="#333" >SHEET</text>
<text x="966.5" y="744.4" font-family="Liberation Sans" font-size="10.5" text-anchor="middle" fill="#555" >1</text>
<text x="984.4" y="741.5" font-family="Liberation Sans" font-size="5" text-anchor="middle" fill="#333" >OF</text>
<text x="1003.5" y="744.4" font-family="Liberation Sans" font-size="10.5" text-anchor="middle" fill="#555" >1</text>
<text x="-1" y="752.2" font-family="Liberation Sans" font-size="22" textLength="47.5" lengthAdjust="spacingAndGlyphs" fill="#a8a8a8" >2024</text>
<text x="56.5" y="752.2" font-family="Liberation Sans" font-size="22" textLength="76" lengthAdjust="spacingAndGlyphs" fill="#fff" stroke="#777" stroke-width="0.55">ARMLS</text></svg>
</body></html>
